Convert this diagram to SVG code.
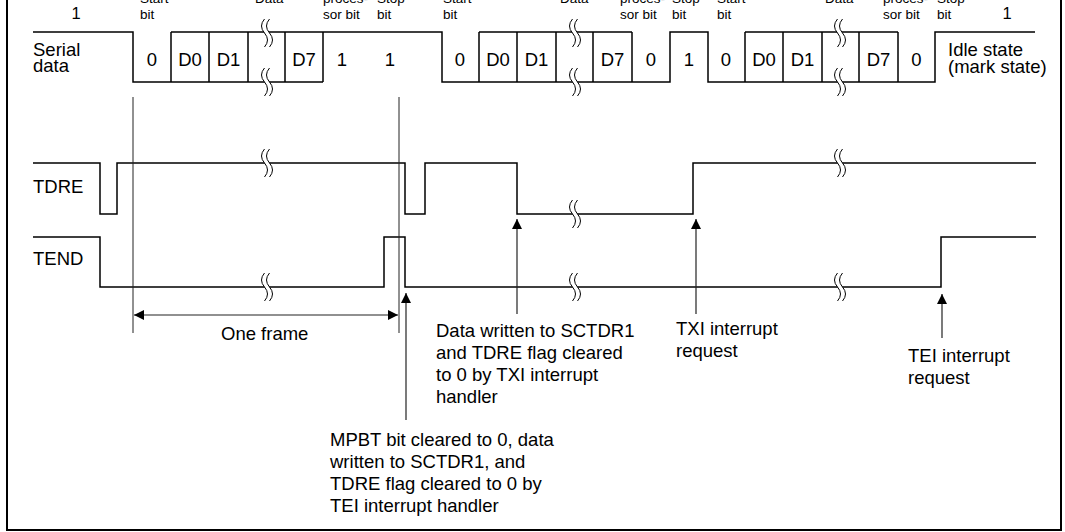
<svg xmlns="http://www.w3.org/2000/svg" width="1065" height="532" viewBox="0 0 1065 532">
<style>
text{font-family:"Liberation Sans",Arial,sans-serif;fill:#000}
.t{font-size:18.5px}
.s{font-size:13.5px}
.m{font-size:16.5px}
.c{text-anchor:middle}
.w{fill:none;stroke:#000;stroke-width:1.5}
.r{fill:none;stroke:#222;stroke-width:1}
.a{fill:none;stroke:#222;stroke-width:1.2}
.bf{fill:#fff;stroke:none}
.bs{fill:none;stroke:#000;stroke-width:1}
</style>
<defs>
<marker id="ah" markerUnits="userSpaceOnUse" markerWidth="10" markerHeight="11" refX="11" refY="5.5" orient="auto-start-reverse" viewBox="0 0 11 11">
<path d="M0,0 L11,5.5 L0,11 Z" fill="#000"/>
</marker>
<g id="brk">
<path class="bf" d="M-2.5,-14 Q-8.5,-7 -2.5,0 Q3.5,7 -2.5,14 L2.5,14 Q8.5,7 2.5,0 Q-3.5,-7 2.5,-14 Z"/>
<path class="bs" d="M-2.5,-14 Q-8.5,-7 -2.5,0 Q3.5,7 -2.5,14 M2.5,-14 Q-3.5,-7 2.5,0 Q8.5,7 2.5,14"/>
</g>
</defs>
<rect x="7" y="-5" width="1054" height="535" fill="none" stroke="#000" stroke-width="2"/>

<g id="top-labels">
<text class="m c" x="76" y="19">1</text>
<text class="m c" x="1007" y="19">1</text>
<text class="s" x="140" y="3">Start</text><text class="s" x="140" y="19">bit</text>
<text class="s" x="255" y="3">Data</text>
<text class="s" x="323" y="3">proces-</text><text class="s" x="323" y="19">sor bit</text>
<text class="s" x="377" y="3">Stop</text><text class="s" x="377" y="19">bit</text>
<text class="s" x="443" y="3">Start</text><text class="s" x="443" y="19">bit</text>
<text class="s" x="560" y="3">Data</text>
<text class="s" x="620" y="3">proces-</text><text class="s" x="620" y="19">sor bit</text>
<text class="s" x="672" y="3">Stop</text><text class="s" x="672" y="19">bit</text>
<text class="s" x="717" y="3">Start</text><text class="s" x="717" y="19">bit</text>
<text class="s" x="825" y="3">Data</text>
<text class="s" x="883" y="3">proces-</text><text class="s" x="883" y="19">sor bit</text>
<text class="s" x="937" y="3">Stop</text><text class="s" x="937" y="19">bit</text>
</g>

<g id="serial-data">
<text class="t" x="33" y="56">Serial</text>
<text class="t" x="33" y="72">data</text>
<path class="w" d="M33,32 H133 V82 H323 M171,32 H442 V82 H670 V32 H708 V82 H935 V32 H1035 M479,32 H632 M745,32 H898"/>
<path class="w" d="M171,32 V82 M209,32 V82 M248,32 V82 M285,32 V82 M323,32 V82 M479,32 V82 M517,32 V82 M556,32 V82 M593,32 V82 M632,32 V82 M745,32 V82 M783,32 V82 M822,32 V82 M859,32 V82 M898,32 V82"/>
<use href="#brk" x="267" y="33"/><use href="#brk" x="267" y="82"/>
<use href="#brk" x="575" y="33"/><use href="#brk" x="575" y="82"/>
<use href="#brk" x="840" y="33"/><use href="#brk" x="840" y="82"/>
<text class="t c" x="152" y="66">0</text>
<text class="t c" x="190" y="66">D0</text>
<text class="t c" x="228.5" y="66">D1</text>
<text class="t c" x="304" y="66">D7</text>
<text class="t c" x="342" y="66">1</text>
<text class="t c" x="390" y="66">1</text>
<text class="t c" x="460" y="66">0</text>
<text class="t c" x="498" y="66">D0</text>
<text class="t c" x="536.5" y="66">D1</text>
<text class="t c" x="612.5" y="66">D7</text>
<text class="t c" x="651" y="66">0</text>
<text class="t c" x="689" y="66">1</text>
<text class="t c" x="726" y="66">0</text>
<text class="t c" x="764" y="66">D0</text>
<text class="t c" x="802.5" y="66">D1</text>
<text class="t c" x="878.5" y="66">D7</text>
<text class="t c" x="916.5" y="66">0</text>
<text class="t" x="948" y="56">Idle state</text>
<text class="t" x="948" y="73">(mark state)</text>
</g>

<g id="tdre">
<text class="t" x="33" y="193">TDRE</text>
<path class="w" d="M33,163 H100 V214 H117 V163 H405 V214 H425 V163 H517 V214 H693 V163 H1036"/>
<use href="#brk" x="267" y="163"/>
<use href="#brk" x="575" y="214"/>
<use href="#brk" x="840" y="163"/>
</g>

<g id="tend">
<text class="t" x="33" y="265">TEND</text>
<path class="w" d="M33,237 H100 V287 H384 V237 H405 V287 H941 V237 H1036"/>
<use href="#brk" x="267" y="287"/>
<use href="#brk" x="575" y="287"/>
<use href="#brk" x="840" y="287"/>
</g>

<g id="connectors">
<line class="r" x1="133" y1="97" x2="133" y2="333"/>
<line class="r" x1="399" y1="97" x2="399" y2="333"/>
<line class="a" x1="134" y1="315" x2="398" y2="315" marker-start="url(#ah)" marker-end="url(#ah)"/>
<line class="a" x1="406" y1="420" x2="406" y2="293" marker-end="url(#ah)"/>
<line class="a" x1="517" y1="314" x2="517" y2="219" marker-end="url(#ah)"/>
<line class="a" x1="696" y1="314" x2="696" y2="219" marker-end="url(#ah)"/>
<line class="a" x1="942" y1="338" x2="942" y2="294" marker-end="url(#ah)"/>
</g>

<g id="annotations">
<text class="t" x="221" y="340">One frame</text>
<text class="t" x="436" y="337">Data written to SCTDR1</text>
<text class="t" x="436" y="359">and TDRE flag cleared</text>
<text class="t" x="436" y="381">to 0 by TXI interrupt</text>
<text class="t" x="436" y="403">handler</text>
<text class="t" x="676" y="335">TXI interrupt</text>
<text class="t" x="676" y="357">request</text>
<text class="t" x="908" y="362">TEI interrupt</text>
<text class="t" x="908" y="384">request</text>
<text class="t" x="330" y="446">MPBT bit cleared to 0, data</text>
<text class="t" x="330" y="468">written to SCTDR1, and</text>
<text class="t" x="330" y="490">TDRE flag cleared to 0 by</text>
<text class="t" x="330" y="512">TEI interrupt handler</text>
</g>
</svg>
